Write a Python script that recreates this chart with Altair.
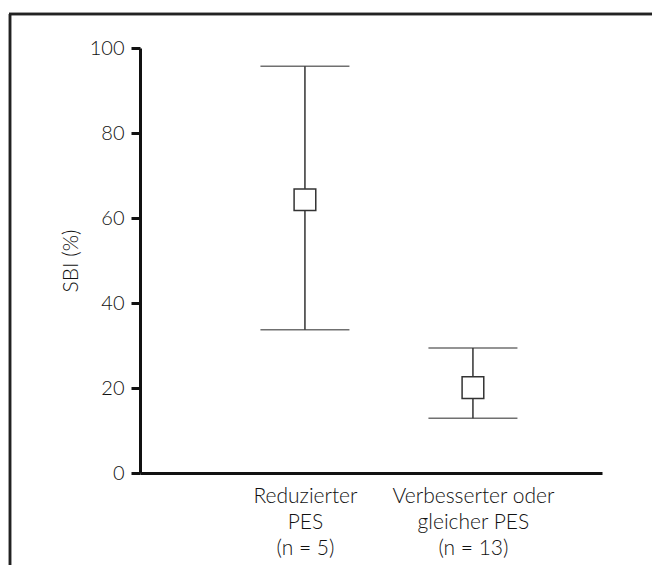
import altair as alt
import pandas as pd

groups = ["Reduzierter|PES|(n = 5)", "Verbesserter oder|gleicher PES|(n = 13)"]
centre = [64.3, 20.1]
upper = [95.7, 29.4]
lower = [33.7, 12.9]
y_ticks = [0, 20, 40, 60, 80, 100]

df = pd.DataFrame({"group": groups, "centre": centre, "upper": upper, "lower": lower})

FONT = "Lato"
INK = "#111111"
WEIGHT = 300

xscale = alt.Scale(type="point", domain=groups, padding=0.875, align=0.561)
yscale = alt.Scale(domain=[0, 100], nice=False, zero=True)

x_enc = alt.X(
    "group:N",
    scale=xscale,
    sort=groups,
    axis=alt.Axis(
        title=None,
        labelExpr="split(datum.label, '|')",
        labelAngle=0,
        labelFont=FONT,
        labelFontSize=21,
        labelFontWeight=WEIGHT,
        labelColor=INK,
        labelLineHeight=26,
        labelPadding=12,
        labelBaseline="top",
        ticks=False,
        domainColor="#111111",
        domainWidth=3,
        grid=False,
    ),
)

y_enc = alt.Y(
    "lower:Q",
    scale=yscale,
    axis=alt.Axis(
        title="SBI (%)",
        values=y_ticks,
        titleFont=FONT,
        titleFontSize=21,
        titleFontWeight=WEIGHT,
        titleColor=INK,
        titlePadding=8,
        labelFont=FONT,
        labelFontSize=20,
        labelFontWeight=WEIGHT,
        labelColor=INK,
        labelPadding=7,
        tickSize=9,
        tickWidth=3,
        tickColor="#111111",
        domainColor="#111111",
        domainWidth=3,
        grid=False,
    ),
)

whisker = alt.Chart(df).mark_rule(color="#333333", strokeWidth=1.5).encode(
    x=x_enc, y=y_enc, y2="upper:Q"
)

cap_hi = alt.Chart(df).mark_tick(color="#333333", thickness=1.5, size=89, orient="horizontal").encode(
    x=alt.X("group:N", scale=xscale, sort=groups), y=alt.Y("upper:Q", scale=yscale)
)
cap_lo = alt.Chart(df).mark_tick(color="#333333", thickness=1.5, size=89, orient="horizontal").encode(
    x=alt.X("group:N", scale=xscale, sort=groups), y=alt.Y("lower:Q", scale=yscale)
)

box = alt.Chart(df).mark_square(
    size=470, filled=True, fill="white", stroke="#333333", strokeWidth=1.5, opacity=1
).encode(
    x=alt.X("group:N", scale=xscale, sort=groups), y=alt.Y("centre:Q", scale=yscale)
)

# outer frame of the figure (decoration)
frame_left = alt.Chart(df).mark_rule(color="#222222", strokeWidth=2.5).encode(
    x=alt.value(-130), y=alt.value(-34), y2=alt.value(540)
)
frame_right = alt.Chart(df).mark_rule(color="#222222", strokeWidth=2.5).encode(
    x=alt.value(516), y=alt.value(-34), y2=alt.value(540)
)
frame_top = alt.Chart(df).mark_rule(color="#222222", strokeWidth=2.5).encode(
    x=alt.value(-131), x2=alt.value(517), y=alt.value(-34)
)

chart = (
    alt.layer(whisker, cap_hi, cap_lo, box, frame_left, frame_right, frame_top)
    .properties(
        width=462,
        height=425,
        background="white",
        autosize=alt.AutoSizeParams(type="none"),
        padding={"left": 132, "top": 40, "right": 50, "bottom": 92},
    )
    .configure_view(stroke=None, strokeWidth=0)
)

chart.save("out.html", embed_options={"renderer": "svg", "actions": False})
